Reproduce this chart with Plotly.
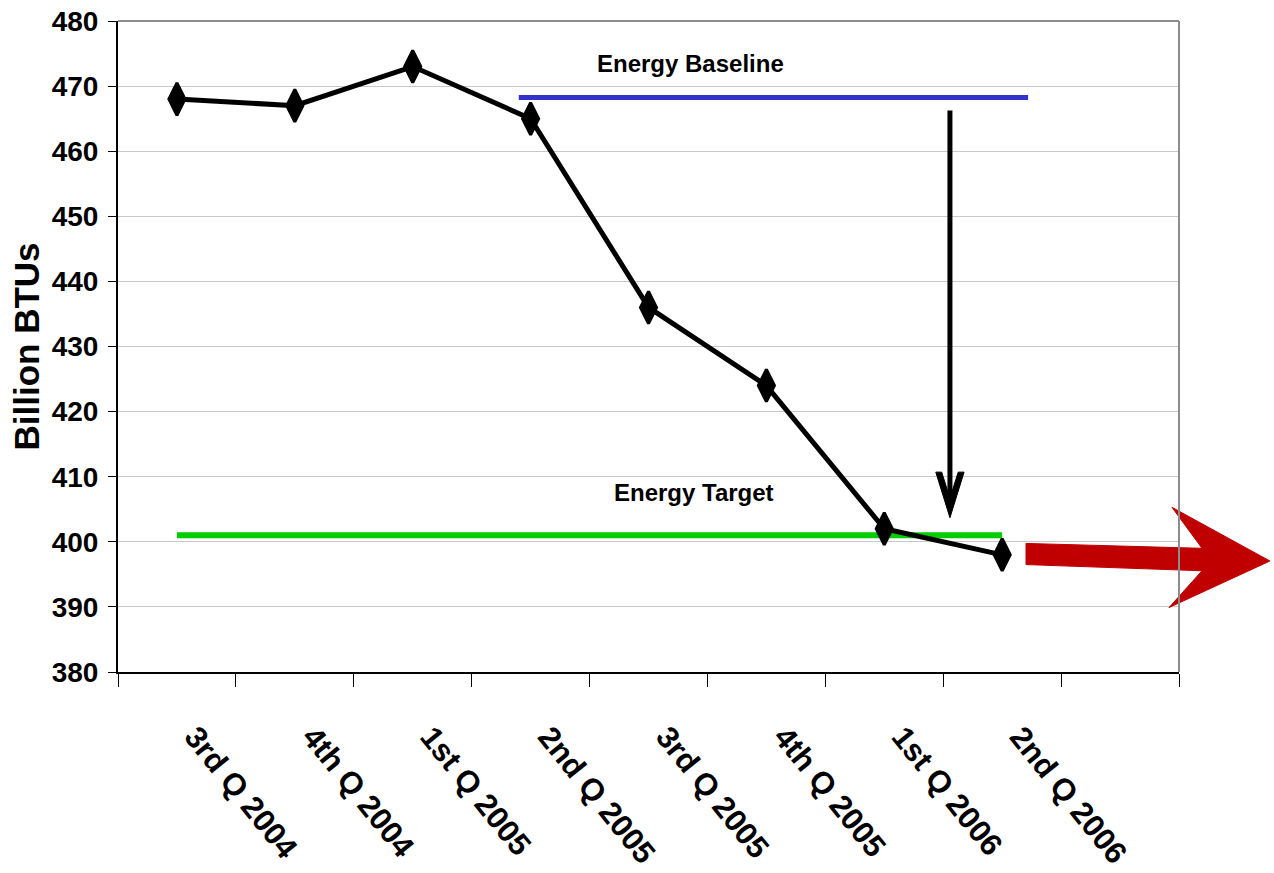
import plotly.graph_objects as go

# Quarterly energy use, billion BTUs
quarters = ["3rd Q 2004", "4th Q 2004", "1st Q 2005", "2nd Q 2005",
            "3rd Q 2005", "4th Q 2005", "1st Q 2006", "2nd Q 2006"]
energy_use = [468, 467, 473, 465, 436, 424, 402, 398]

# Reference levels
baseline_value = sum(energy_use[:4]) / 4   # average of the first four quarters
target_value = 401

# x extents of the reference lines (category index units)
baseline_span = [2.9, 7.22]
target_span = [0, 7]

y_ticks = list(range(380, 481, 10))

FONT = "Liberation Sans, Arial, sans-serif"

fig = go.Figure()

fig.add_trace(go.Scatter(
    x=target_span, y=[target_value, target_value], mode="lines",
    line=dict(color="#00CC00", width=6), hoverinfo="skip", showlegend=False))

fig.add_trace(go.Scatter(
    x=baseline_span, y=[baseline_value, baseline_value], mode="lines",
    line=dict(color="#3333CC", width=5), hoverinfo="skip", showlegend=False))

fig.add_trace(go.Scatter(
    x=list(range(len(quarters))), y=energy_use, mode="lines+markers",
    line=dict(color="black", width=5),
    marker=dict(symbol="diamond-tall", size=23, color="black",
                line=dict(color="black", width=3)),
    showlegend=False))

# Downward arrow from the baseline to the target
arrow_x = 6.557
shaft_top = baseline_value - 2.0
tip_y = target_value + 2.7
head_len = 7.0
fig.add_shape(type="line", xref="x", yref="y",
              x0=arrow_x, x1=arrow_x, y0=shaft_top, y1=tip_y + 3.0,
              line=dict(color="black", width=5))
hw_out, hw_in = 0.12, 0.07
fig.add_shape(
    type="path", xref="x", yref="y",
    path=(f"M{arrow_x},{tip_y} "
          f"L{arrow_x - hw_out},{tip_y + head_len} "
          f"L{arrow_x - hw_in},{tip_y + head_len} "
          f"L{arrow_x},{tip_y + 3.0} "
          f"L{arrow_x + hw_in},{tip_y + head_len} "
          f"L{arrow_x + hw_out},{tip_y + head_len} Z"),
    fillcolor="black", line=dict(color="black", width=1))

# Big red block arrow pointing past the last quarter
fig.add_shape(
    type="path", xref="paper", yref="paper",
    path=("M0.8558,0.1975 L1.0217,0.1900 L0.9934,0.2530 L1.0857,0.1705 "
          "L0.9906,0.0990 L1.0217,0.1555 L0.8558,0.1650 Z"),
    fillcolor="#C00000", line=dict(color="#C00000", width=1), layer="above")

# Plot frame: grey top and right edges
fig.add_shape(type="line", xref="paper", yref="paper", x0=0, x1=1, y0=1, y1=1,
              line=dict(color="#8C8C8C", width=2))
fig.add_shape(type="line", xref="paper", yref="paper", x0=1, x1=1, y0=0, y1=1,
              line=dict(color="#8C8C8C", width=2))

fig.add_annotation(text="<b>Energy Baseline</b>", xref="x", yref="y",
                   x=4.36, y=473.5, showarrow=False,
                   font=dict(family=FONT, size=24, color="black"))
fig.add_annotation(text="<b>Energy Target</b>", xref="x", yref="y",
                   x=4.39, y=407.5, showarrow=False,
                   font=dict(family=FONT, size=24, color="black"))

fig.update_layout(
    width=1274, height=873,
    margin=dict(l=118, r=95, t=21, b=201, autoexpand=False),
    paper_bgcolor="white", plot_bgcolor="white",
    font=dict(family=FONT, color="black"),
    xaxis=dict(
        range=[-0.5, 8.5],
        tickmode="array", tickvals=list(range(len(quarters))),
        ticktext=[f"<b>{q}</b>" for q in quarters],
        tickangle=51, ticks="", showgrid=False, zeroline=False,
        tickfont=dict(family=FONT, size=31, color="black"),
        ticklabelstandoff=32, ticklabelshift=18,
        showline=True, linecolor="black", linewidth=2,
        minor=dict(tick0=-0.5, dtick=1, ticks="outside", ticklen=13,
                   tickcolor="black", tickwidth=1, showgrid=False),
    ),
    yaxis=dict(
        range=[380, 480], tickmode="array", tickvals=y_ticks,
        ticktext=[f"<b>{v}</b>" for v in y_ticks],
        ticks="outside", ticklen=8, tickcolor="black", tickwidth=1,
        tickfont=dict(family=FONT, size=28, color="black"),
        ticklabelstandoff=4,
        showgrid=True, gridcolor="#C8C8C8", gridwidth=1, zeroline=False,
        showline=True, linecolor="black", linewidth=2,
        title=dict(text="<b>Billion BTUs</b>", standoff=1,
                   font=dict(family=FONT, size=35, color="black")),
    ),
)

fig.write_html("out.html")
